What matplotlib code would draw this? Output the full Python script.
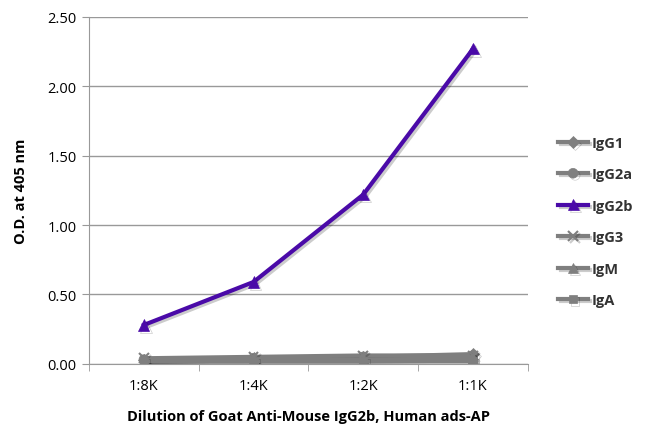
import matplotlib
matplotlib.use("Agg")
import matplotlib.pyplot as plt
import matplotlib.patheffects as pe

plt.rcParams["font.family"] = ["Open Sans", "DejaVu Sans"]

dilutions = ["1:8K", "1:4K", "1:2K", "1:1K"]
series_names = ["IgG1", "IgG2a", "IgG2b", "IgG3", "IgM", "IgA"]
igg1 = [0.03, 0.04, 0.05, 0.07]
igg2a = [0.03, 0.04, 0.05, 0.06]
igg2b = [0.28, 0.59, 1.22, 2.27]
igg3 = [0.04, 0.05, 0.06, 0.06]
igm = [0.02, 0.03, 0.03, 0.04]
iga = [0.02, 0.02, 0.02, 0.02]

GREY = "#7f7f7f"
PURPLE = "#4a0aa8"

styles = [
    (igg1, GREY, "D", 6),
    (igg2a, GREY, "o", 7),
    (igg2b, PURPLE, "^", 8),
    (igg3, GREY, "x", 7),
    (igm, GREY, "^", 7),
    (iga, GREY, "s", 6),
]

fig = plt.figure(figsize=(6.5, 4.39), dpi=100)
ax = fig.add_axes([0.137, 0.169, 0.675, 0.79])

x = list(range(len(dilutions)))
shadow = [pe.SimpleLineShadow(offset=(1.5, -1.5), alpha=0.2), pe.Normal()]
for name, (vals, col, mk, ms) in zip(series_names, styles):
    ax.plot(x, vals, color=col, lw=3, marker=mk, markersize=ms,
            markeredgewidth=1.5 if mk == "x" else 0.5, markeredgecolor=col,
            label=name, zorder=4 if col == PURPLE else 3,
            path_effects=shadow)

ax.set_xlim(-0.5, 3.5)
ax.set_ylim(0, 2.5)
ax.set_yticks([0, 0.5, 1.0, 1.5, 2.0, 2.5])
ax.set_yticklabels([f"{v:.2f}" for v in [0, 0.5, 1.0, 1.5, 2.0, 2.5]], fontsize=10.5)
ax.set_xticks(x)
ax.set_xticklabels(dilutions, fontsize=10.5)
ax.tick_params(axis="x", length=0, pad=10)
ax.tick_params(axis="y", length=5, color="#999999", pad=4)
ax.set_xticks([-0.5, 0.5, 1.5, 2.5, 3.5], minor=True)
ax.tick_params(axis="x", which="minor", length=5, color="#999999")

ax.grid(axis="y", color="#999999", lw=1)
ax.set_axisbelow(True)
for s in ["top", "right"]:
    ax.spines[s].set_visible(False)
ax.spines["left"].set_color("#999999")
ax.spines["bottom"].set_color("#999999")

ax.set_ylabel("O.D. at 405 nm", fontsize=10.5, fontweight="bold", labelpad=14)
ax.set_xlabel("Dilution of Goat Anti-Mouse IgG2b, Human ads-AP",
              fontsize=10.5, fontweight="bold", labelpad=12)

leg = ax.legend(loc="center left", bbox_to_anchor=(1.04, 0.41), frameon=False,
                fontsize=10.5, handlelength=2.0, handletextpad=0.25, labelspacing=1.2)
for t in leg.get_texts():
    t.set_fontweight("bold")
    t.set_color("#333333")

fig.savefig("out.png", dpi=100)
